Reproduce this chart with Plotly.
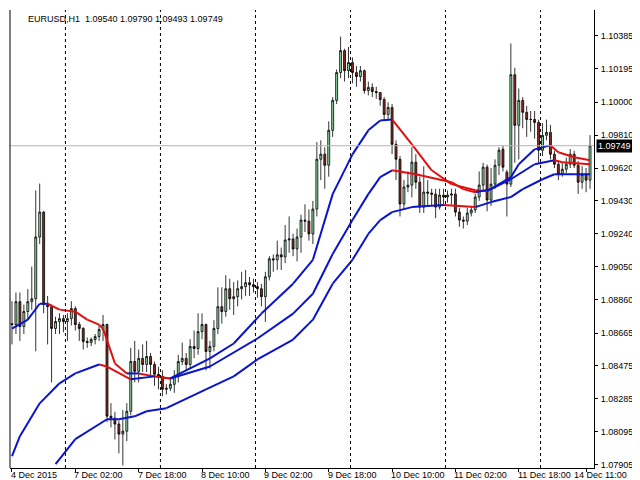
import plotly.graph_objects as go

# EURUSD H1 closes, bar by bar (4 Dec 2015 10:00 .. 14 Dec 2015 12:00)
closes = [
    1.08715, 1.08847, 1.08703, 1.08790, 1.08847, 1.08864, 1.09221, 1.09365, 1.08830, 1.08818,
    1.08692, 1.08732, 1.08749, 1.08732, 1.08749, 1.08807, 1.08715, 1.08692, 1.08617, 1.08611,
    1.08628, 1.08645, 1.08686, 1.08715, 1.08185, 1.08173, 1.08139, 1.08081, 1.08098, 1.08213,
    1.08501, 1.08444, 1.08519, 1.08484, 1.08530, 1.08484, 1.08427, 1.08415, 1.08340, 1.08346,
    1.08369, 1.08415, 1.08501, 1.08519, 1.08484, 1.08588, 1.08576, 1.08674, 1.08715, 1.08559,
    1.08588, 1.08692, 1.08818, 1.08790, 1.08922, 1.08864, 1.08876, 1.08922, 1.08934, 1.08957,
    1.08945, 1.08934, 1.08922, 1.08876, 1.08991, 1.09095, 1.09089, 1.09118, 1.09106, 1.09204,
    1.09210, 1.09152, 1.09221, 1.09319, 1.09313, 1.09239, 1.09383, 1.09671, 1.09700, 1.09636,
    1.09838, 1.10011, 1.10172, 1.10299, 1.10183, 1.10230, 1.10172, 1.10149, 1.10183, 1.10068,
    1.10086, 1.10062, 1.10057, 1.10016, 1.09930, 1.09970, 1.09757, 1.09671, 1.09412, 1.09510,
    1.09521, 1.09654, 1.09538, 1.09394, 1.09481, 1.09475, 1.09469, 1.09394, 1.09463, 1.09452,
    1.09463, 1.09469, 1.09365, 1.09319, 1.09313, 1.09360, 1.09377, 1.09452, 1.09521, 1.09625,
    1.09435, 1.09527, 1.09636, 1.09723, 1.09625, 1.09527, 1.10160, 1.09867, 1.10011, 1.09942,
    1.09901, 1.09901, 1.09884, 1.09723, 1.09809, 1.09826, 1.09700, 1.09642, 1.09584, 1.09613,
    1.09642, 1.09700, 1.09636, 1.09538, 1.09584, 1.09550, 1.09749,
]
opens = [
    1.08720, 1.08715, 1.08847, 1.08703, 1.08790, 1.08847, 1.08864, 1.09221, 1.09365, 1.08830,
    1.08818, 1.08692, 1.08732, 1.08749, 1.08732, 1.08749, 1.08807, 1.08715, 1.08692, 1.08617,
    1.08611, 1.08628, 1.08645, 1.08686, 1.08715, 1.08185, 1.08173, 1.08139, 1.08081, 1.08098,
    1.08213, 1.08501, 1.08444, 1.08519, 1.08484, 1.08530, 1.08484, 1.08427, 1.08415, 1.08340,
    1.08346, 1.08369, 1.08415, 1.08501, 1.08519, 1.08484, 1.08588, 1.08576, 1.08674, 1.08715,
    1.08559, 1.08588, 1.08692, 1.08818, 1.08790, 1.08922, 1.08864, 1.08876, 1.08922, 1.08934,
    1.08957, 1.08945, 1.08934, 1.08922, 1.08876, 1.08991, 1.09095, 1.09089, 1.09118, 1.09106,
    1.09204, 1.09210, 1.09152, 1.09221, 1.09319, 1.09313, 1.09239, 1.09383, 1.09671, 1.09700,
    1.09636, 1.09838, 1.10011, 1.10172, 1.10299, 1.10183, 1.10230, 1.10172, 1.10149, 1.10183,
    1.10068, 1.10086, 1.10062, 1.10057, 1.10016, 1.09930, 1.09970, 1.09757, 1.09671, 1.09412,
    1.09510, 1.09521, 1.09654, 1.09538, 1.09394, 1.09481, 1.09475, 1.09469, 1.09394, 1.09463,
    1.09452, 1.09463, 1.09469, 1.09365, 1.09319, 1.09313, 1.09360, 1.09377, 1.09452, 1.09521,
    1.09625, 1.09435, 1.09527, 1.09636, 1.09729, 1.09596, 1.09527, 1.10160, 1.09867, 1.10011,
    1.09942, 1.09901, 1.09901, 1.09884, 1.09723, 1.09809, 1.09826, 1.09700, 1.09642, 1.09584,
    1.09613, 1.09642, 1.09700, 1.09636, 1.09538, 1.09584, 1.09550,
]
highs = [
    1.0885, 1.0890, 1.0890, 1.0883, 1.0892, 1.0905, 1.0949, 1.0953, 1.0937, 1.0888,
    1.0883, 1.0876, 1.0878, 1.0877, 1.0878, 1.0885, 1.0882, 1.0873, 1.0870, 1.0864,
    1.0864, 1.0866, 1.0871, 1.0877, 1.0872, 1.0826, 1.0821, 1.0816, 1.0822, 1.0826,
    1.0858, 1.0862, 1.0857, 1.0860, 1.0862, 1.0855, 1.0850, 1.0847, 1.0845, 1.0837,
    1.0840, 1.0845, 1.0854, 1.0861, 1.0855, 1.0863, 1.0868, 1.0878, 1.0878, 1.0872,
    1.0862, 1.0874, 1.0893, 1.0893, 1.0900, 1.0898, 1.0896, 1.0897, 1.0902, 1.0903,
    1.0899, 1.0898, 1.0896, 1.0895, 1.0902, 1.0911, 1.0912, 1.0920, 1.0916, 1.0929,
    1.0934, 1.0924, 1.0927, 1.0935, 1.0941, 1.0938, 1.0943, 1.0977, 1.0978, 1.0974,
    1.0989, 1.1003, 1.1019, 1.1038, 1.1031, 1.1032, 1.1026, 1.1021, 1.1021, 1.1019,
    1.1012, 1.1011, 1.1009, 1.1006, 1.1003, 1.1000, 1.0999, 1.0978, 1.0969, 1.0955,
    1.0960, 1.0974, 1.0970, 1.0957, 1.0963, 1.0955, 1.0950, 1.0950, 1.0950, 1.0950,
    1.0949, 1.0950, 1.0950, 1.0939, 1.0934, 1.0939, 1.0940, 1.0947, 1.0960, 1.0965,
    1.0964, 1.0962, 1.0967, 1.0974, 1.0975, 1.0961, 1.1034, 1.1020, 1.1008, 1.1003,
    1.0998, 1.0995, 1.0995, 1.0990, 1.0988, 1.0990, 1.0987, 1.0972, 1.0966, 1.0965,
    1.0968, 1.0973, 1.0972, 1.0966, 1.0963, 1.0962, 1.0981,
]
lows = [
    1.0860, 1.0866, 1.0862, 1.0866, 1.0874, 1.0880, 1.0856, 1.0918, 1.0878, 1.0860,
    1.0838, 1.0866, 1.0866, 1.0867, 1.0862, 1.0871, 1.0868, 1.0862, 1.0857, 1.0858,
    1.0859, 1.0860, 1.0862, 1.0862, 1.0815, 1.0812, 1.0805, 1.0797, 1.0790, 1.0804,
    1.0819, 1.0838, 1.0838, 1.0844, 1.0844, 1.0841, 1.0836, 1.0834, 1.0830, 1.0831,
    1.0833, 1.0832, 1.0838, 1.0848, 1.0845, 1.0846, 1.0852, 1.0854, 1.0863, 1.0845,
    1.0846, 1.0856, 1.0866, 1.0872, 1.0876, 1.0880, 1.0877, 1.0882, 1.0886, 1.0888,
    1.0888, 1.0890, 1.0887, 1.0882, 1.0873, 1.0897, 1.0902, 1.0903, 1.0903, 1.0907,
    1.0913, 1.0911, 1.0908, 1.0913, 1.0925, 1.0920, 1.0918, 1.0934, 1.0955, 1.0950,
    1.0957, 1.0980, 1.0999, 1.1014, 1.1012, 1.1014, 1.1011, 1.1009, 1.1012, 1.1005,
    1.1004, 1.1003, 1.1002, 1.0998, 1.0990, 1.0990, 1.0970, 1.0955, 1.0934, 1.0938,
    1.0948, 1.0945, 1.0950, 1.0936, 1.0936, 1.0940, 1.0940, 1.0933, 1.0938, 1.0940,
    1.0942, 1.0941, 1.0934, 1.0928, 1.0927, 1.0929, 1.0934, 1.0936, 1.0943, 1.0948,
    1.0937, 1.0940, 1.0950, 1.0958, 1.0960, 1.0934, 1.0951, 1.0965, 1.0967, 1.0985,
    1.0980, 1.0983, 1.0979, 1.0965, 1.0969, 1.0978, 1.0967, 1.0962, 1.0955, 1.0957,
    1.0959, 1.0962, 1.0962, 1.0947, 1.0950, 1.0948, 1.0950,
]
bars = list(range(len(closes)))

# moving average lines (bar index, price)
ma_fast_bar = [0, 4, 7, 9, 12, 16, 19, 22, 23, 26, 29, 32, 36, 40, 50, 56, 63, 71, 76, 81, 86,
               90, 93, 96, 101, 106, 111, 117, 120, 126, 128, 132, 136, 138, 142, 146]
ma_fast = [1.08691, 1.08743, 1.08835, 1.08835, 1.08801, 1.08789, 1.08743, 1.08714, 1.08691,
           1.08490, 1.08432, 1.08432, 1.08415, 1.08403, 1.08519, 1.08605, 1.08778, 1.08951,
           1.09089, 1.09469, 1.09699, 1.09838, 1.09895, 1.09901, 1.09757, 1.09607, 1.09527,
           1.09492, 1.09486, 1.09567, 1.09642, 1.09728, 1.09751, 1.09711, 1.09682, 1.09665]
ma_mid_bar = [0, 2, 7, 12, 16, 22, 24, 30, 36, 40, 50, 62, 71, 76, 81, 86, 90, 93, 96, 102,
              111, 114, 117, 121, 126, 132, 137, 139, 146]
ma_mid = [1.07954, 1.08069, 1.08259, 1.08375, 1.08432, 1.08484, 1.08472, 1.08398, 1.08415,
          1.08403, 1.08472, 1.08634, 1.08778, 1.08893, 1.09123, 1.09319, 1.09469, 1.09567,
          1.09607, 1.09584, 1.09538, 1.09498, 1.09480, 1.09498, 1.09555, 1.09642, 1.09665,
          1.09653, 1.09642]
ma_slow_bar = [11, 16, 24, 27, 31, 34, 39, 49, 56, 62, 71, 76, 81, 86, 90, 93, 96, 101, 109,
               117, 121, 126, 129, 134, 137, 142, 146]
ma_slow = [1.07908, 1.08052, 1.08167, 1.08167, 1.08184, 1.08213, 1.08231, 1.08340, 1.08415,
           1.08513, 1.08628, 1.08743, 1.08951, 1.09089, 1.09239, 1.09319, 1.09365, 1.09394,
           1.09406, 1.09394, 1.09423, 1.09452, 1.09498, 1.09555, 1.09584, 1.09584, 1.09584]

price_ticks = [1.10385, 1.10195, 1.10000, 1.09810, 1.09620, 1.09430, 1.09240, 1.09050,
               1.08860, 1.08665, 1.08475, 1.08285, 1.08095, 1.07905]
time_bars = [0, 16, 32, 48, 64, 80, 96, 112, 128, 145]
time_labels = ["4 Dec 2015", "7 Dec 02:00", "7 Dec 18:00", "8 Dec 10:00", "9 Dec 02:00",
               "9 Dec 18:00", "10 Dec 10:00", "11 Dec 02:00", "11 Dec 18:00", "14 Dec 11:00"]
day_breaks = [13.5, 37.5, 61.5, 85.5, 109.5, 133.5]
last_price = 1.09749

FONT = "Liberation Sans"

fig = go.Figure()

fig.add_trace(go.Candlestick(
    x=bars, open=opens, high=highs, low=lows, close=closes,
    increasing=dict(fillcolor="#8fdca4", line=dict(color="#000000", width=0.8)),
    decreasing=dict(fillcolor="#8b2a22", line=dict(color="#000000", width=0.8)),
    whiskerwidth=0, showlegend=False, hoverinfo="skip",
))

# MA lines: red where falling, blue where rising
for xs, ys in [(ma_fast_bar, ma_fast), (ma_mid_bar, ma_mid), (ma_slow_bar, ma_slow)]:
    for k in range(len(xs) - 1):
        col = "#e01010" if ys[k + 1] < ys[k] - 0.00003 else "#0a14c8"
        fig.add_trace(go.Scatter(x=xs[k:k + 2], y=ys[k:k + 2], mode="lines",
                                 line=dict(color=col, width=2), showlegend=False,
                                 hoverinfo="skip"))

for b in day_breaks:
    fig.add_vline(x=b, line=dict(color="black", width=1, dash="3px,3px"))

fig.add_hline(y=last_price, line=dict(color="#b4b4b4", width=1))

for b, t in zip(time_bars, time_labels):
    shift = -14 if b == time_bars[-1] else -3
    fig.add_annotation(x=b, y=0, yref="paper", yanchor="top", xanchor="left",
                       text=t, showarrow=False, xshift=shift, yshift=0,
                       font=dict(family=FONT, size=9, color="black"))

fig.add_annotation(x=1, xref="paper", y=last_price, xanchor="left", text="1.09749",
                   showarrow=False, bgcolor="black",
                   font=dict(family=FONT, size=9, color="white"),
                   borderpad=1, xshift=2)

fig.add_annotation(x=0, xref="paper", y=1, yref="paper", xanchor="left", yanchor="top",
                   text="EURUSD,H1  1.09540 1.09790 1.09493 1.09749", showarrow=False,
                   xshift=16, yshift=-2, font=dict(family=FONT, size=9, color="black"))

fig.update_layout(
    width=640, height=480,
    margin=dict(l=2, r=54, t=2, b=20),
    paper_bgcolor="white", plot_bgcolor="white",
    font=dict(family=FONT, size=9, color="black"),
    xaxis=dict(range=[-0.5, 147], showgrid=False, zeroline=False,
               rangeslider=dict(visible=False), showticklabels=False,
               tickvals=time_bars, ticks="outside", ticklen=3, tickcolor="black",
               showline=True, linecolor="black", mirror=False),
    yaxis=dict(side="right", range=[1.07885, 1.10534], tickvals=price_ticks,
               tickformat=".5f", showgrid=False, zeroline=False, ticks="outside",
               ticklen=3, tickcolor="black", showline=True, linecolor="black",
               ticklabelstandoff=1, tickfont=dict(family=FONT, size=9)),
)
fig.add_shape(type="line", xref="paper", yref="paper", x0=0, x1=0, y0=0, y1=1,
              line=dict(color="black", width=1))

fig.write_html("out.html")
